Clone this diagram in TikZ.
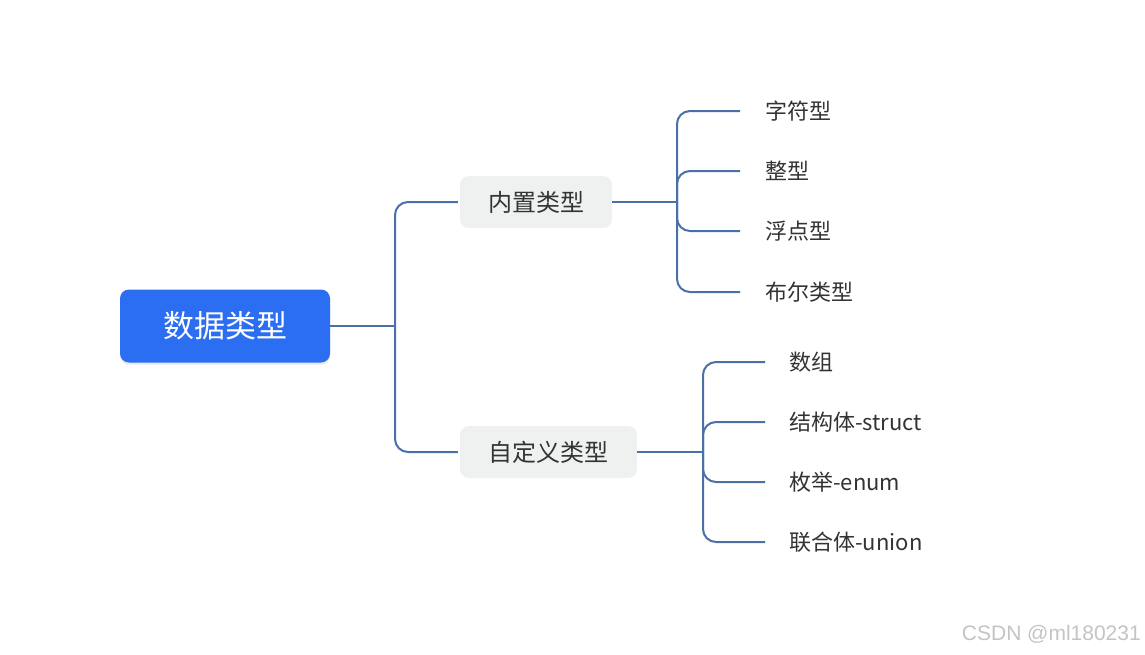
\documentclass[tikz,border=0pt]{standalone}
\usepackage{fontspec}
\setmainfont{Noto Sans CJK SC}
\newfontfamily\wmfont{Liberation Sans}
\usetikzlibrary{shadows}
\definecolor{rootblue}{HTML}{2C6EF2}
\definecolor{linkblue}{HTML}{4A70A8}
\definecolor{midgray}{HTML}{EFF1F1}
\definecolor{txtgray}{HTML}{333333}
\definecolor{wmgray}{HTML}{C4C4C4}
\tikzset{
  rootbox/.style={fill=rootblue, rounded corners=9pt, minimum width=210pt, minimum height=73pt,
    inner sep=0pt, text=white, font=\fontsize{31}{36}\selectfont,
    drop shadow={opacity=0.18, shadow xshift=0pt, shadow yshift=-2pt}},
  midbox/.style={fill=midgray, rounded corners=9pt, minimum height=52pt, inner sep=0pt,
    text=txtgray, font=\fontsize{24}{28}\selectfont},
  leaf/.style={anchor=west, inner sep=0pt, text=txtgray, font=\fontsize{22}{26}\selectfont},
  link/.style={draw=linkblue, line width=2pt, rounded corners=13pt},
}
\begin{document}
\begin{tikzpicture}[x=1pt,y=-1pt]
\useasboundingbox (0,0) rectangle (1145,654);
\fill[white] (0,0) rectangle (1145,654);

\node[rootbox] (root) at (225,326) {数据类型};
\node[midbox, minimum width=152pt] (m1) at (536,202) {内置类型};
\node[midbox, minimum width=177pt] (m2) at (548.5,452) {自定义类型};

\node[leaf] (a1) at (765,111) {字符型};
\node[leaf] (a2) at (765,171) {整型};
\node[leaf] (a3) at (765,231) {浮点型};
\node[leaf] (a4) at (765,292) {布尔类型};

\node[leaf] (b1) at (789,362) {数组};
\node[leaf] (b2) at (789,422) {结构体-struct};
\node[leaf] (b3) at (789,482) {枚举-enum};
\node[leaf] (b4) at (789,542) {联合体-union};

\coordinate (j0) at (395,326);
\coordinate (j1) at (677,202);
\coordinate (j2) at (703,452);

\draw[link] (root.east) -- (j0);
\draw[link, shorten >=2pt] (j0) |- (m1.west);
\draw[link, shorten >=2pt] (j0) |- (m2.west);

\draw[link] (m1.east) -- (j1);
\foreach \l in {a1,a2,a3,a4} \draw[link, shorten >=25pt] (j1) |- (\l.west);

\draw[link] (m2.east) -- (j2);
\foreach \l in {b1,b2,b3,b4} \draw[link, shorten >=24pt] (j2) |- (\l.west);

\node[anchor=east, inner sep=0pt, text=wmgray, font=\wmfont\fontsize{21}{24}\selectfont] (wm) at (1141,634) {CSDN @ml180231};
\end{tikzpicture}
\end{document}
